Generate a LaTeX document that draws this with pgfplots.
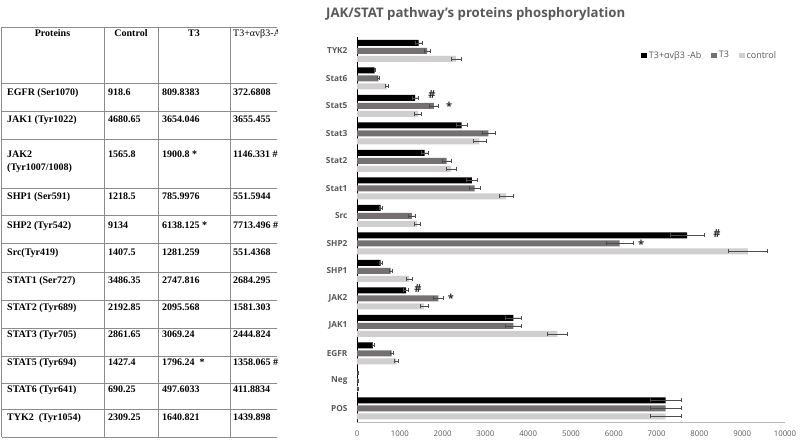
\documentclass[border=0pt]{standalone}
\usepackage{fontspec}
\setmainfont{Liberation Serif}
\newfontfamily\chartfont{Open Sans}
\usepackage{pgfplots}
\usepackage{pgfplotstable}
\pgfplotsset{compat=1.18}
\definecolor{cT3}{HTML}{767171}
\definecolor{cCtrl}{HTML}{D0CECE}
\definecolor{txtgray}{HTML}{595959}
\definecolor{linegray}{HTML}{8C8C8C}

\pgfplotstableread{
y ab abe t3 t3e ctrl ctrle
0 7212 358 7212 358 7212 358
1 15 10 15 10 25 10
2 372.68 20 809.84 35 918.6 40
3 3655.46 183 3654.05 183 4680.65 234
4 1146.33 55 1900.8 113 1565.8 90
5 551.59 40 785.998 30 1218.5 78
6 7713.50 390 6138.13 305 9134 460
7 551.44 40 1281.26 80 1407.5 75
8 2684.30 130 2747.82 130 3486.35 170
9 1581.30 90 2095.57 95 2192.85 115
10 2444.82 125 3069.24 150 2861.65 150
11 1358.07 78 1796.24 100 1427.4 80
12 411.88 20 497.60 25 690.25 30
13 1439.90 82 1640.82 78 2309.25 117
}\datatable

\begin{document}
\begin{tikzpicture}
\path[use as bounding box] (0,0) rectangle (800pt,-442pt);
\fill[white] (0,0) rectangle (800pt,-442pt);

% ---------- table ----------
\begin{scope}[x=1pt,y=-1pt]
\clip (0,0) rectangle (277,442);
\foreach \yy in {27,83,111,139,188,215,243,272,300,328,356,383,409,437}
  \draw[linegray, line width=0.9pt] (1.5,\yy) -- (280,\yy);
\foreach \xx in {1.5,104,158,230}
  \draw[linegray, line width=0.9pt] (\xx,27) -- (\xx,437);
\tikzset{tb/.style={anchor=base west, inner sep=0pt, font=\bfseries\fontsize{10}{12}\selectfont},
         tv/.style={anchor=base west, inner sep=0pt, font=\bfseries\fontsize{10}{12}\selectfont}}
% header
\node[anchor=base, inner sep=0pt, font=\bfseries\fontsize{10}{12}\selectfont] at (52.5,36.5) {Proteins};
\node[anchor=base, inner sep=0pt, font=\bfseries\fontsize{10}{12}\selectfont] at (131,36.5) {Control};
\node[anchor=base, inner sep=0pt, font=\bfseries\fontsize{10}{12}\selectfont] at (194,36.5) {T3};
\node[tb, font=\fontsize{10}{12}\selectfont] at (233,36.5) {T3+αvβ3-Ab};
% rows
\node[tb] at (7,95.5) {EGFR (Ser1070)};
\node[tv] at (108,95.5) {918.6};
\node[tv] at (162,95.5) {809.8383};
\node[tv] at (233,95.5) {372.6808};

\node[tb] at (7,122.5) {JAK1 (Tyr1022)};
\node[tv] at (108,122.5) {4680.65};
\node[tv] at (162,122.5) {3654.046};
\node[tv] at (233,122.5) {3655.455};

\node[tb] at (7,157.5) {JAK2};
\node[tb] at (7,170.5) {(Tyr1007/1008)};
\node[tv] at (108,157.5) {1565.8};
\node[tv] at (162,157.5) {1900.8 *};
\node[tv] at (233,157.5) {1146.331 \#};

\node[tb] at (7,199.5) {SHP1 (Ser591)};
\node[tv] at (108,199.5) {1218.5};
\node[tv] at (162,199.5) {785.9976};
\node[tv] at (233,199.5) {551.5944};

\node[tb] at (7,228.5) {SHP2 (Tyr542)};
\node[tv] at (108,228.5) {9134};
\node[tv] at (162,228.5) {6138.125 *};
\node[tv] at (233,228.5) {7713.496 \#};

\node[tb] at (7,255.5) {Src(Tyr419)};
\node[tv] at (108,255.5) {1407.5};
\node[tv] at (162,255.5) {1281.259};
\node[tv] at (233,255.5) {551.4368};

\node[tb] at (7,283.5) {STAT1 (Ser727)};
\node[tv] at (108,283.5) {3486.35};
\node[tv] at (162,283.5) {2747.816};
\node[tv] at (233,283.5) {2684.295};

\node[tb] at (7,310.5) {STAT2 (Tyr689)};
\node[tv] at (108,310.5) {2192.85};
\node[tv] at (162,310.5) {2095.568};
\node[tv] at (233,310.5) {1581.303};

\node[tb] at (7,337.5) {STAT3 (Tyr705)};
\node[tv] at (108,337.5) {2861.65};
\node[tv] at (162,337.5) {3069.24};
\node[tv] at (233,337.5) {2444.824};

\node[tb] at (7,365.5) {STAT5 (Tyr694)};
\node[tv] at (108,365.5) {1427.4};
\node[tv] at (162,365.5) {1796.24\ \ *};
\node[tv] at (233,365.5) {1358.065 \#};

\node[tb] at (7,392.5) {STAT6 (Tyr641)};
\node[tv] at (108,392.5) {690.25};
\node[tv] at (162,392.5) {497.6033};
\node[tv] at (233,392.5) {411.8834};

\node[tb] at (7,420) {TYK2\ \ (Tyr1054)};
\node[tv] at (108,420) {2309.25};
\node[tv] at (162,420) {1640.821};
\node[tv] at (233,420) {1439.898};
\end{scope}

% ---------- title ----------
\node[anchor=base west, inner sep=0pt, text=txtgray, font=\chartfont\bfseries\fontsize{13.2}{15}\selectfont] at (326pt,-17pt) {JAK/STAT pathway’s proteins phosphorylation};

% ---------- chart ----------
\begin{axis}[
  at={(357pt,-422pt)}, anchor=south west,
  scale only axis, width=428pt, height=385pt,
  xmin=0, xmax=10000, ymin=-0.5, ymax=13.5,
  xbar, bar width=6pt,
  ytick={0,...,13},
  yticklabels={POS,Neg,EGFR,JAK1,JAK2,SHP1,SHP2,Src,Stat1,Stat2,Stat3,Stat5,Stat6,TYK2},
  xtick={0,1000,...,10000},
  scaled x ticks=false,
  /pgf/number format/assume math mode=true,
  /pgf/number format/1000 sep={},
  xticklabel style={font=\chartfont\fontsize{7.8}{9}\selectfont, text=txtgray, yshift=-5pt},
  yticklabel style={font=\chartfont\bfseries\fontsize{8.3}{9}\selectfont, text=txtgray, xshift=-6pt},
  major tick length=0pt,
  axis x line*=bottom, axis y line*=left,
  x axis line style={-, draw=gray!55, line width=0.8pt},
  y axis line style={-, draw=black, line width=0.8pt},
  clip=false,
  legend style={at={(rel axis cs:0.664,0.969)}, anchor=north west, draw=none, fill=none,
    legend columns=-1, font=\chartfont\fontsize{9}{10}\selectfont, text=txtgray,
    /tikz/every even column/.append style={column sep=8pt}, inner sep=0pt},
  legend image code/.code={\fill[#1] (0pt,-2.8pt) rectangle (5.5pt,2.8pt);},
  error bars/error bar style={line width=0.5pt, draw=black!70},
  error bars/error mark options={rotate=90, mark size=2pt, line width=0.5pt, draw=black!70},
]
\addplot[fill=black, draw=none, bar shift=8pt,
  error bars/.cd, x dir=both, x explicit]
  table[x=ab, y=y, x error=abe] {\datatable};
\addlegendentry{T3+αvβ3 -Ab}
\addplot[fill=cT3, draw=none, bar shift=0pt,
  error bars/.cd, x dir=both, x explicit]
  table[x=t3, y=y, x error=t3e] {\datatable};
\addlegendentry{T3}
\addplot[fill=cCtrl, draw=none, bar shift=-8pt,
  error bars/.cd, x dir=both, x explicit]
  table[x=ctrl, y=y, x error=ctrle] {\datatable};
\addlegendentry{control}

\tikzset{sig/.style={inner sep=0pt, font=\chartfont\bfseries\fontsize{11}{12}\selectfont, text=black!85}}
\node[sig] at (axis cs:1750,11.39) {\#};
\node[sig] at (axis cs:2150,10.98) {*};
\node[sig] at (axis cs:8410,6.34) {\#};
\node[sig] at (axis cs:6640,5.95) {*};
\node[sig] at (axis cs:1425,4.34) {\#};
\node[sig] at (axis cs:2196,3.98) {*};
\end{axis}
\end{tikzpicture}
\end{document}
